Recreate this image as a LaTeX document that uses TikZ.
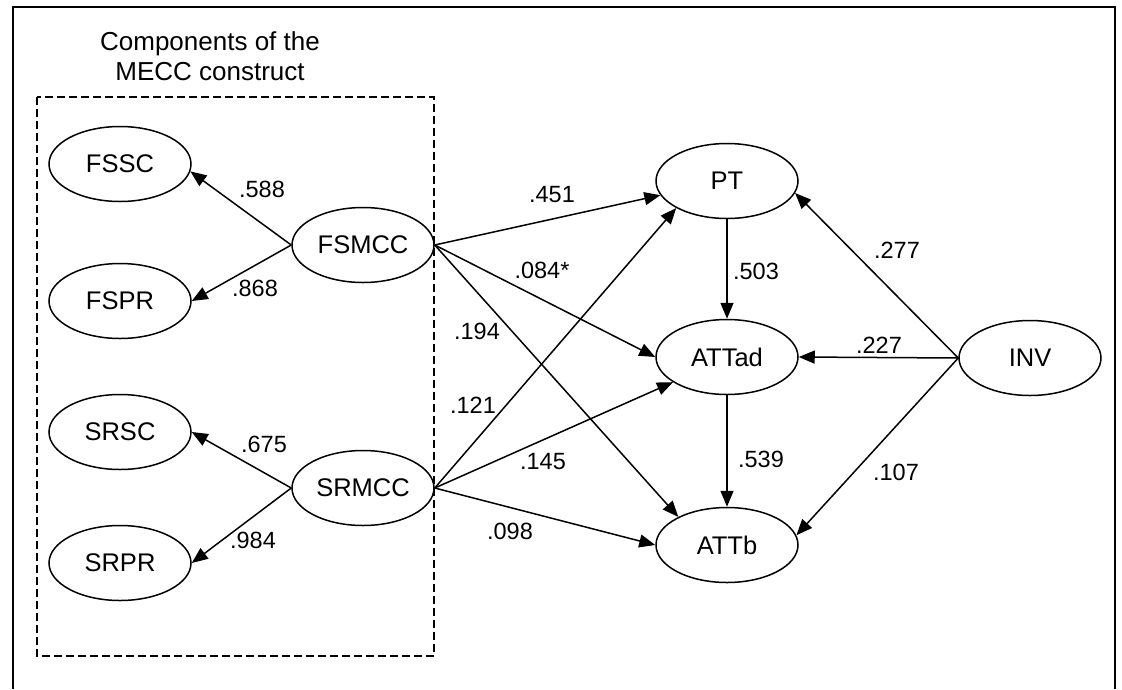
\documentclass[tikz,border=0pt]{standalone}
\usepackage{fontspec}
\setmainfont{Liberation Sans}
\usetikzlibrary{arrows.meta,shapes.geometric}

\begin{document}
\begin{tikzpicture}[x=1pt,y=-1pt,
  latent/.style={draw, ellipse, line width=1.5pt, minimum width=142pt,
    minimum height=75pt, inner sep=0pt, font=\fontsize{25.5}{30}\selectfont},
  effect/.style={line width=1.5pt, -{Triangle[length=16pt,width=13pt]}},
  coef/.style={font=\fontsize{23.5}{28}\selectfont, inner sep=0pt},
  frame/.style={line width=1.5pt},
  group/.style={line width=1.4pt, dash pattern=on 8pt off 4pt}]

\useasboundingbox (0,0) rectangle (1122,689);

% outer frame (open at the bottom edge)
\draw[frame] (13,689) -- (13,7) -- (1115,7) -- (1115,689);

% MECC components group
\draw[group] (37,97) rectangle (434,656);
\node[align=center, font=\fontsize{26}{30}\selectfont] (title) at (210,56)
  {Components of the\\MECC construct};

% latent variables
\node[latent] (FSSC)  at (120,164) {FSSC};
\node[latent] (FSPR)  at (120,301) {FSPR};
\node[latent] (SRSC)  at (120,432) {SRSC};
\node[latent] (SRPR)  at (120,563) {SRPR};
\node[latent] (FSMCC) at (363,245) {FSMCC};
\node[latent] (SRMCC) at (363,488) {SRMCC};
\node[latent] (PT)    at (727,181) {PT};
\node[latent] (ATTad) at (727,357) {ATTad};
\node[latent] (ATTb)  at (727,545) {ATTb};
\node[latent] (INV)   at (1030,358) {INV};

% loadings
\draw[effect] (FSMCC.west) -- (FSSC.-6);
\draw[effect] (FSMCC.west) -- (FSPR.east);
\draw[effect] (SRMCC.west) -- (SRSC.east);
\draw[effect] (SRMCC.west) -- (SRPR.east);

% structural paths
\draw[effect] (FSMCC.east) -- (PT.192);
\draw[effect] (FSMCC.east) -- (ATTad.west);
\draw[effect] (FSMCC.east) -- (ATTb.150);
\draw[effect] (SRMCC.east) -- (PT.208);
\draw[effect] (SRMCC.east) -- (ATTad.205);
\draw[effect] (SRMCC.east) -- (ATTb.west);
\draw[effect] (PT.south) -- (ATTad.north);
\draw[effect] (ATTad.south) -- (ATTb.north);
\draw[effect] (INV.west) -- (PT.-10);
\draw[effect] (INV.west) -- (ATTad.east);
\draw[effect] (INV.west) -- (ATTb.8);

% coefficients
\node[coef] (c588) at (262,189) {.588};
\node[coef] (c868) at (255,288) {.868};
\node[coef] (c675) at (264,444) {.675};
\node[coef] (c984) at (253,540) {.984};
\node[coef] (c451) at (552,195) {.451};
\node[coef] (c084) at (542,270) {.084*};
\node[coef] (c194) at (477,331) {.194};
\node[coef] (c121) at (473,405) {.121};
\node[coef] (c145) at (543,462) {.145};
\node[coef] (c098) at (510,531) {.098};
\node[coef] (c503) at (756,271) {.503};
\node[coef] (c539) at (761,459) {.539};
\node[coef] (c277) at (897,250) {.277};
\node[coef] (c227) at (879,345) {.227};
\node[coef] (c107) at (896,472) {.107};
\end{tikzpicture}
\end{document}
